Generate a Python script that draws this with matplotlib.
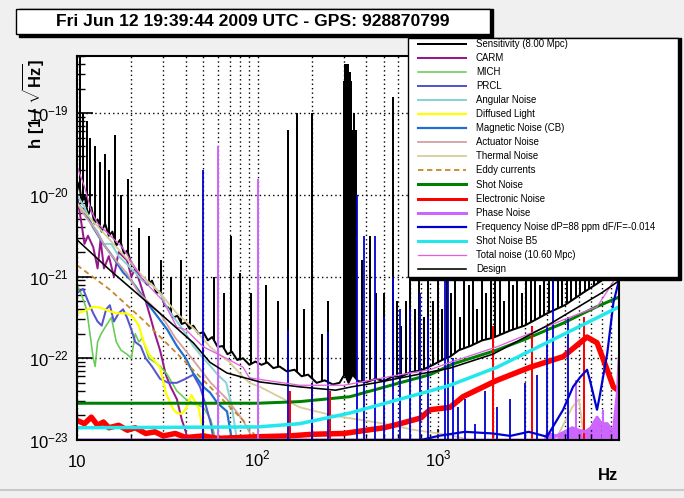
import numpy as np
import matplotlib
matplotlib.use("Agg")
from matplotlib import pyplot as plt
from matplotlib.lines import Line2D
from matplotlib.patches import Rectangle
from matplotlib.ticker import LogLocator, NullFormatter, FixedLocator

W, H = 684, 498
TITLE = "Fri Jun 12 19:39:44 2009 UTC - GPS: 928870799"

# frequencies in Hz, amplitudes as log10(h)
sens_f = [10, 10.3, 10.6, 11, 11.5, 12, 12.5, 13, 13.7, 14.3, 15, 15.7, 16.5, 17.3, 18.2, 19, 20, 21, 22,
          23.2, 24.5, 26, 27.5, 29, 30.5, 32, 34, 36, 38, 40, 42, 44, 47, 50, 53, 56, 60, 64, 68, 72, 77, 83,
          90, 97, 105, 113, 122, 132, 145, 160, 175, 190, 212, 235, 260, 284, 298, 305, 318, 335, 360, 402,
          450, 500, 560, 615, 700, 800, 935, 1050, 1160, 1300, 1500, 1750, 2000, 2500, 3000, 3500, 4000,
          5000, 6300, 8000, 10000]
sens_h = [-19.95, -19.85, -20.1, -20.0, -20.25, -20.15, -20.35, -20.3, -20.45, -20.35, -20.5, -20.45,
          -20.62, -20.55, -20.72, -20.68, -20.85, -20.9, -21.0, -21.04, -21.1, -21.05, -21.2, -21.18, -21.35,
          -21.38, -21.5, -21.48, -21.58, -21.56, -21.64, -21.6, -21.7, -21.68, -21.78, -21.74, -21.86,
          -21.85, -21.95, -21.92, -22.02, -22.0, -22.08, -22.04, -22.08, -22.05, -22.12, -22.1, -22.16,
          -22.14, -22.22, -22.2, -22.3, -22.27, -22.32, -22.3, -22.22, -22.2, -22.3, -22.2, -22.28, -22.29,
          -22.25, -22.28, -22.22, -22.23, -22.17, -22.15, -22.08, -22.02, -21.98, -21.9, -21.85, -21.78,
          -21.75, -21.66, -21.6, -21.52, -21.45, -21.35, -21.2, -21.05, -20.85]
sens_spike_f = [10.4, 10.8, 11.3, 11.8, 12.5, 13.4, 14.3, 15.0, 16.2, 17.5, 19.2, 22.0, 25.0, 29.0, 33.0,
                37.5, 42.0, 57.0, 65.0, 71.0, 80.0, 92.0, 111, 130, 147, 165, 180, 200, 226, 246, 300, 303,
                306, 310, 313, 316, 320, 324, 330, 336, 342, 350, 380, 420, 450, 500, 560, 590, 620, 660,
                700, 740, 780, 830, 880, 930, 990, 1050, 1110, 1170, 1240, 1310, 1390, 1470, 1550, 1640,
                1740, 1840, 1950, 2060, 2180, 2310, 2450, 2590, 2740, 2900, 3070, 3250, 3440, 3640, 3850,
                4080, 4320, 4570, 4840, 5120, 5420, 5740, 6080, 6440, 6820, 7220, 7650, 8100, 8580, 9080,
                9600]
sens_spike_h = [-18.3, -19.0, -19.1, -19.3, -19.4, -19.6, -19.5, -19.7, -19.27, -20.0, -19.8, -20.4, -20.5,
                -20.8, -21.0, -20.8, -21.0, -21.0, -21.2, -20.5, -20.95, -21.2, -21.1, -21.3, -19.2, -19.0,
                -21.4, -19.0, -21.7, -21.3, -18.6, -18.4, -18.5, -18.4, -18.8, -18.4, -19.0, -18.5, -18.6,
                -19.2, -19.0, -19.2, -20.8, -20.5, -21.2, -21.2, -18.8, -21.3, -21.6, -21.3, -20.0, -21.4,
                -20.2, -21.5, -20.8, -21.3, -20.5, -21.4, -20.3, -21.2, -20.6, -21.5, -20.4, -21.1, -20.7,
                -21.4, -20.5, -21.2, -20.6, -21.0, -20.4, -21.3, -20.7, -21.1, -20.5, -21.2, -20.6, -20.9,
                -20.4, -21.1, -20.6, -20.8, -20.4, -21.0, -20.5, -20.7, -20.3, -20.9, -20.5, -20.6, -20.3,
                -20.8, -20.5, -20.6, -20.4, -20.5, -20.3]

carm_f = [10, 10.5, 11, 11.5, 12.3, 13, 13.5, 14.1, 15, 16, 17, 18.9, 20, 21, 22.5, 24, 25.5, 27, 28.8, 31,
          33, 35.7, 38, 40, 42]
carm_h = [-20.0, -20.3, -20.6, -20.5, -20.64, -20.9, -20.55, -20.9, -20.75, -21.0, -20.7, -20.8, -21.0, -20.9,
          -21.1, -21.3, -21.5, -21.7, -21.9, -22.2, -22.35, -22.5, -22.75, -22.9, -23.1]
mich_f = [10, 10.5, 11.3, 11.8, 12.3, 12.6, 13, 13.6, 14.5, 15.5, 16.5, 17.5, 18.9, 20, 21, 22, 23, 25, 27,
          29, 31.6, 35.7, 40, 44, 50, 55, 60]
mich_h = [-21.1, -21.2, -21.4, -21.7, -22.0, -22.1, -21.8, -21.7, -21.6, -21.5, -21.8, -21.9, -21.95, -22.0,
          -21.7, -21.8, -21.75, -22.0, -22.05, -22.1, -22.2, -22.4, -22.5, -22.55, -22.6, -22.75, -23.1]
prcl_f = [10, 10.8, 11.5, 12.3, 13, 13.7, 14.5, 15.2, 16, 17, 18, 18.9, 20, 21, 22.5, 24, 26, 28.8, 32,
          35.7, 40, 44, 48, 52, 55, 58]
prcl_h = [-21.2, -21.15, -21.3, -21.45, -21.55, -21.6, -21.4, -21.35, -21.55, -21.45, -21.4, -21.5, -21.65,
          -21.8, -21.85, -22.0, -22.1, -22.25, -22.3, -22.3, -22.25, -22.2, -22.35, -22.6, -22.8, -23.1]
ang_f = [10, 11, 12, 13, 14, 15.5, 17, 18.9, 21, 23, 26, 28.8, 31, 33, 35.7, 40, 44, 50, 55, 60, 67, 72, 78]
ang_h = [-20.0, -20.15, -20.35, -20.45, -20.6, -20.6, -20.75, -20.85, -20.95, -21.05, -21.1, -21.2, -21.35,
         -21.45, -21.55, -21.7, -21.85, -22.0, -22.1, -22.2, -22.3, -22.6, -23.1]
diff_f = [10, 11, 12.3, 13.5, 15, 16.5, 18.9, 20.5, 22, 23.2, 25, 28.8, 31, 34, 35.7, 38, 40, 43, 47, 50, 55]
diff_h = [-21.45, -21.42, -21.37, -21.38, -21.42, -21.45, -21.45, -21.5, -21.6, -21.78, -21.95, -22.11,
          -22.42, -22.62, -22.67, -22.68, -22.62, -22.45, -22.6, -22.9, -23.1]
mag_f = [10, 11, 12.3, 14, 15.8, 18, 20, 22.4, 25, 28.8, 31.6, 35.7, 40, 43.9, 50, 54.5, 60, 67.6, 72]
mag_h = [-20.1, -20.2, -20.4, -20.6, -20.76, -20.95, -21.05, -21.2, -21.35, -21.53, -21.65, -21.85, -22.0,
         -22.18, -22.35, -22.42, -22.55, -22.65, -23.0]
act_f = [10, 11, 12.3, 15, 18.9, 22, 28.8, 35, 43.9, 55, 67.6, 83, 95, 110]
act_h = [-20.1, -20.25, -20.39, -20.7, -20.96, -21.2, -21.45, -21.75, -22.02, -22.3, -22.5, -22.76, -23.0,
         -23.2]
therm_f = [10, 12, 15.2, 23.2, 28.8, 35.7, 45, 54.5, 70, 83, 90, 103, 171, 261, 500, 750, 1160, 1500, 2000,
           4000, 5500, 6000, 6500]
therm_h = [-20.1, -20.3, -20.55, -21.0, -21.2, -21.45, -21.65, -21.86, -22.05, -22.23, -22.3, -22.35, -22.6,
           -22.7, -22.8, -22.88, -22.94, -23.0, -23.1, -23.2, -22.6, -22.5, -23.1]
eddy_f = [10, 15.2, 23.2, 35.7, 54.5, 83, 110]
eddy_h = [-20.86, -21.16, -21.53, -21.94, -22.35, -22.76, -23.1]
shot_f = [10, 100, 171, 324, 612, 900, 1200, 2100, 3000, 4900, 7500, 10000]
shot_h = [-22.55, -22.55, -22.53, -22.47, -22.30, -22.2, -22.07, -21.9, -21.77, -21.57, -21.37, -21.25]
elec_f = [10, 11, 12, 13, 14, 15, 17, 19, 21, 24, 27, 30, 35, 40, 50, 60, 80, 100, 150, 200, 300, 400, 500,
          615, 800, 898, 1160, 1368, 2107, 3214, 4900, 6640, 7550, 8590, 9300, 10000]
elec_h = [-22.76, -22.8, -22.72, -22.82, -22.78, -22.85, -22.82, -22.88, -22.85, -22.92, -22.9, -22.95,
          -22.92, -22.97, -22.95, -22.98, -22.97, -22.96, -22.95, -22.93, -22.92, -22.88, -22.85, -22.8,
          -22.73, -22.63, -22.6, -22.47, -22.27, -22.11, -21.98, -21.74, -21.81, -22.14, -22.35, -22.4]
elec_spike_f = [50, 100, 150, 200, 250, 2000, 3300, 6400]
elec_spike_h = [-22.2, -22.2, -22.4, -22.3, -22.4, -21.6, -21.6, -21.5]
phase_f = [10, 3900, 4000, 4500, 5000, 5500, 6000, 6500, 7000, 7550, 8000, 8600, 9300, 9800, 10000]
phase_h = [-23.0, -23.0, -22.92, -22.95, -22.9, -22.85, -22.88, -22.9, -22.85, -22.72, -22.8, -22.8, -22.9,
           -22.4, -22.0]
phase_spike_f = [60, 100, 5800, 8100]
phase_spike_h = [-19.4, -19.8, -22.27, -22.63]
freq_f = [10, 800, 1000, 1400, 2000, 2500, 3162, 3990, 4900, 5560, 6100, 6650, 6900, 7550, 7800, 8600, 9300,
          9900]
freq_h = [-23.0, -23.0, -22.95, -22.9, -22.92, -22.95, -22.9, -22.96, -22.63, -22.35, -22.23, -22.14, -22.27,
          -22.63, -22.47, -21.94, -21.32, -21.08]
freq_spike_f = [50, 147, 200, 246, 355, 390, 445, 500, 560, 615, 700, 790, 880, 1090, 1130, 1200, 1280, 1400,
                1600, 1800, 2100, 2500, 3000, 3500, 3990, 4300, 5200]
freq_spike_h = [-19.7, -21.65, -22.3, -21.68, -20.0, -20.5, -20.5, -21.5, -21.0, -21.4, -21.4, -21.2, -21.5,
                -21.0, -21.0, -22.0, -22.6, -22.5, -22.8, -22.4, -22.6, -22.5, -22.3, -22.2, -21.6, -21.0,
                -21.5]
b5_f = [10, 100, 171, 324, 612, 898, 1160, 2107, 4900, 10000]
b5_h = [-22.85, -22.84, -22.8, -22.67, -22.5, -22.4, -22.33, -22.11, -21.71, -21.37]
total_f = [10, 11, 12, 13, 14.5, 17.8, 23.2, 30, 35.7, 40, 50, 67, 83, 90, 171, 300, 615, 898, 1160, 2107,
           4900, 7550, 9200, 10000]
total_h = [-19.65, -19.9, -20.2, -20.35, -20.45, -20.64, -21.04, -21.3, -21.62, -21.65, -21.86, -22.0, -22.11,
           -22.24, -22.33, -22.33, -22.2, -22.14, -22.05, -21.86, -21.53, -21.37, -21.08, -20.9]
design_f = [10, 15.2, 28.8, 44, 54.5, 67.6, 103, 171, 270, 330, 450, 1160, 2000, 4000, 8000, 10000]
design_h = [-20.55, -20.92, -21.45, -21.81, -22.05, -22.18, -22.29, -22.35, -22.39, -22.35, -22.30, -22.12,
            -21.95, -21.6, -21.2, -21.05]

# label, f, log10 h, colour, line width (px), dashed
SERIES = [
    ("Sensitivity (8.00 Mpc)", sens_f, sens_h, "black", 2.0, False),
    ("CARM", carm_f, carm_h, "#98188c", 2.0, False),
    ("MICH", mich_f, mich_h, "#66cc55", 1.6, False),
    ("PRCL", prcl_f, prcl_h, "#5555d0", 2.0, False),
    ("Angular Noise", ang_f, ang_h, "#88d4d4", 2.0, False),
    ("Diffused Light", diff_f, diff_h, "#ffff00", 2.2, False),
    ("Magnetic Noise (CB)", mag_f, mag_h, "#1f6fd0", 2.2, False),
    ("Actuator Noise", act_f, act_h, "#d4a0a0", 1.8, False),
    ("Thermal Noise", therm_f, therm_h, "#d8cc99", 1.8, False),
    ("Eddy currents", eddy_f, eddy_h, "#c8862a", 1.8, True),
    ("Shot Noise", shot_f, shot_h, "#008000", 3.0, False),
    ("Electronic Noise", elec_f, elec_h, "#ff0000", 5.5, False),
    ("Phase Noise", phase_f, phase_h, "#cc66ff", 3.0, False),
    ("Frequency Noise dP=88 ppm dF/F=-0.014", freq_f, freq_h, "#0000d0", 2.2, False),
    ("Shot Noise B5", b5_f, b5_h, "#22e8ee", 3.5, False),
    ("Total noise (10.60 Mpc)", total_f, total_h, "#e060e0", 1.3, False),
    ("Design", design_f, design_h, "black", 1.6, False),
]

PX = 72.0 / 100  # points per pixel
FLOOR = 1e-24


def log_interp(f_new, f, logh):
    return 10.0 ** np.interp(np.log10(f_new), np.log10(f), logh)


def draw_spikes(ax, f, top, base, color, lw):
    ax.vlines(f, base, 10.0 ** np.asarray(top), colors=color, linewidth=lw * PX)


plt.rcParams['font.family'] = ['Liberation Sans', 'DejaVu Sans']
plt.rcParams['mathtext.fontset'] = 'custom'
plt.rcParams['mathtext.rm'] = 'Liberation Sans'
plt.rcParams['mathtext.bf'] = 'Liberation Sans:bold'

fig = plt.figure(figsize=(W / 100, H / 100), dpi=100, facecolor="#f0f0f0")
ax = fig.add_axes([77 / W, 1 - 440 / H, 542 / W, 384 / H])
ax.set_xscale("log")
ax.set_yscale("log")
ax.set_xlim(10, 9990)
ax.set_ylim(1e-23, 10 ** -18.3)

for label, f, logh, color, lw, dashed in SERIES:
    h = 10.0 ** np.asarray(logh)
    ax.plot(f, h, color=color, linewidth=lw * PX, linestyle=(0, (3, 2)) if dashed else "-")
    if label.startswith("Sensitivity"):
        draw_spikes(ax, sens_spike_f, sens_spike_h, log_interp(sens_spike_f, sens_f, sens_h), "black", 2.0)
    elif label == "Electronic Noise":
        draw_spikes(ax, elec_spike_f, elec_spike_h, FLOOR, color, 2.0)
    elif label == "Phase Noise":
        ax.fill_between(f, FLOOR, h, color=color, linewidth=0)
        draw_spikes(ax, phase_spike_f, phase_spike_h, FLOOR, color, 2.0)
    elif label.startswith("Frequency"):
        draw_spikes(ax, freq_spike_f, freq_spike_h, FLOOR, color, 1.8)

ax.set_facecolor("white")
for side in ax.spines.values():
    side.set_linewidth(1.5)
ax.tick_params(which="both", direction="in", top=False, right=False, labelsize=12, colors="black")
ax.tick_params(axis="y", which="major", length=16 * PX, width=1.2, pad=6)
ax.tick_params(axis="y", which="minor", length=8 * PX, width=1.0)
ax.tick_params(axis="x", which="major", length=11 * PX, width=1.2)
ax.tick_params(axis="x", which="minor", length=6 * PX, width=1.0)
ax.xaxis.set_major_locator(FixedLocator([10, 100, 1000]))
ax.xaxis.set_major_formatter(NullFormatter())
ax.xaxis.set_minor_locator(LogLocator(base=10, subs=np.arange(2, 10), numticks=20))
ax.xaxis.set_minor_formatter(NullFormatter())
ax.yaxis.set_major_locator(LogLocator(base=10, numticks=20))
ax.yaxis.set_minor_locator(LogLocator(base=10, subs=np.arange(2, 10), numticks=20))
ax.yaxis.set_minor_formatter(NullFormatter())
ax.grid(True, which="both", axis="x", color="black", linestyle=(0, (1, 2.2)), linewidth=1.0)
ax.grid(True, which="major", axis="y", color="black", linestyle=(0, (1, 2.2)), linewidth=1.0)

# x tick labels with the digits sharing one baseline, as ROOT draws them
xform = ax.get_xaxis_transform()
for f_tick, text in zip([10, 100, 1000], ["10", r"10$^{2}$", r"10$^{3}$"]):
    ax.text(f_tick, -0.07, text, transform=xform, ha="center", va="baseline", fontsize=12)

fig.text(33 / W, 1 - 58 / H, r"$\mathbf{h\ [1\ /\ \sqrt{Hz}]}$", rotation=90, ha="center", va="top",
         fontsize=12)
fig.text(618 / W, 1 - 480 / H, "Hz", ha="right", va="baseline", fontsize=12, fontweight="bold")

# title box with ROOT-like shadow
fig.patches.append(Rectangle((19 / W, 1 - 37 / H), 474 / W, 28 / H, transform=fig.transFigure,
                             facecolor="black", edgecolor="black", zorder=3))
fig.patches.append(Rectangle((16 / W, 1 - 34 / H), 474 / W, 25 / H, transform=fig.transFigure,
                             facecolor="white", edgecolor="black", linewidth=1.0, zorder=3.5))
fig.text(253 / W, 1 - 22 / H, TITLE, ha="center", va="center", fontsize=12.6, fontweight="bold", zorder=4)

# legend box
fig.patches.append(Rectangle((411 / W, 1 - 280 / H), 270 / W, 242 / H, transform=fig.transFigure,
                             facecolor="black", edgecolor="black", zorder=5))
fig.patches.append(Rectangle((408 / W, 1 - 277 / H), 270 / W, 239 / H, transform=fig.transFigure,
                             facecolor="white", edgecolor="black", linewidth=1.0, zorder=5.5))
for i, (label, f, logh, color, lw, dashed) in enumerate(SERIES):
    y = 1 - (44 + 14.05 * i) / H
    fig.add_artist(Line2D([418 / W, 466 / W], [y, y], color=color, linewidth=min(lw, 3.0) * PX,
                          linestyle=(0, (3, 2)) if dashed else "-", zorder=6))
    fig.text(476 / W, y, label, ha="left", va="center", fontsize=6.9, zorder=6)

# thin darker strip along the bottom of the canvas
fig.add_artist(Line2D([0, 1], [1 - 490 / H, 1 - 490 / H], color="#c8c8c8", linewidth=1.5))

fig.savefig("out.png", dpi=100, facecolor=fig.get_facecolor())
